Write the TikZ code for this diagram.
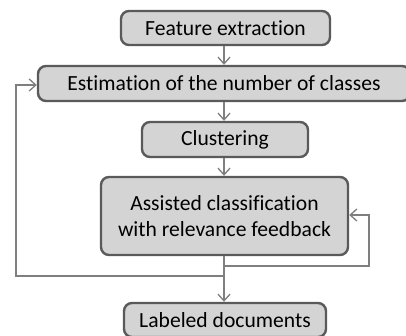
\documentclass[tikz,border=0pt]{standalone}
\usepackage{fontspec}
\setmainfont[Ligatures=NoCommon]{Carlito}
\usetikzlibrary{arrows.meta}
\definecolor{boxfill}{HTML}{D4D4D4}
\definecolor{boxline}{HTML}{5A5A5A}
\definecolor{arrowc}{HTML}{7F7F7F}
\begin{document}
\begin{tikzpicture}[x=0.75pt,y=-0.75pt,
  stepbox/.style={draw=boxline,fill=boxfill,line width=1.8pt,rounded corners=6pt,
    inner sep=0pt,align=center,font=\fontsize{16.2}{19.5}\selectfont,text=black},
  conn/.style={draw=arrowc,line width=1pt,-{Straight Barb[length=5pt,width=9pt]}}]
\useasboundingbox (0,0) rectangle (406,335);
\begin{scope}
\clip (0,0) rectangle (406,335);
\node[stepbox,minimum width=156.75pt,minimum height=25.5pt] (fe) at (225.5,28) {Feature extraction};
\node[stepbox,minimum width=279pt,minimum height=26.25pt] (est) at (224,83.5) {Estimation of the number of classes};
\node[stepbox,minimum width=124.5pt,minimum height=26.25pt] (cl) at (225,139.5) {Clustering};
\node[stepbox,minimum width=185.25pt,minimum height=58.5pt] (ac) at (224.5,216) {Assisted classification\\with relevance feedback};
\node[stepbox,minimum width=151.5pt,minimum height=25.5pt] (ld) at (225,320) {Labeled documents};
\end{scope}
\coordinate (a1) at (224,266);
\coordinate (a2) at (369,266);
\coordinate (a3) at (369,215);
\coordinate (b1) at (224,276);
\coordinate (b2) at (16,276);
\coordinate (b3) at (16,85);
\draw[conn] (fe.south -| 224,0) -- (est.north -| 224,0);
\draw[conn] (est.south -| 224,0) -- (cl.north -| 224,0);
\draw[conn] (cl.south -| 224,0) -- (ac.north -| 224,0);
\draw[conn] (ac.south -| 224,0) -- (ld.north -| 224,0);
\draw[conn] (a1) -- (a2) -- (a3) -- (a3 -| ac.east);
\draw[conn] (b1) -- (b2) -- (b3) -- (b3 -| est.west);
\end{tikzpicture}
\end{document}
